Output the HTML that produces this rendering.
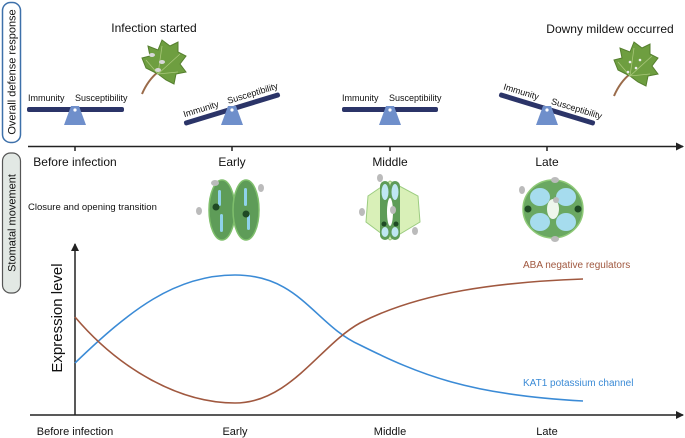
<!DOCTYPE html>
<html><head><meta charset="utf-8"><style>
html,body{margin:0;padding:0;background:#fff;}
svg{display:block;font-family:"Liberation Sans",sans-serif;}
</style></head><body>
<svg width="685" height="438" viewBox="0 0 685 438" xmlns="http://www.w3.org/2000/svg">
<defs>
<marker id="ar" markerWidth="8" markerHeight="8" refX="7" refY="4" orient="auto" markerUnits="userSpaceOnUse"><path d="M0,0 L8,4 L0,8 Z" fill="#222"/></marker>
<g id="ful"><path d="M-4,-3 L4,-3 L11,16 L-11,16 Z" fill="#6f8fcb"/><circle cx="0" cy="1" r="1.6" fill="#fff"/></g>
<g id="leaf">
<path d="M2,44 Q8,30 18,22" stroke="#9a6b4a" stroke-width="2" fill="none"/>
<path d="M18,24 L6,18 L2,8 L10,6 L8,-4 L18,0 L22,-10 L30,-4 L38,-8 L38,2 L46,6 L40,14 L46,22 L36,24 L34,34 L26,30 Z" fill="#6e9e40" stroke="#557f2e" stroke-width="1"/>
<path d="M18,24 L22,-4 M18,24 L40,4 M18,24 L38,22 M18,24 L6,10" stroke="#a9c77a" stroke-width="0.8" fill="none"/>
</g>
</defs>

<rect x="2.5" y="2.5" width="18" height="140" rx="8" fill="#fff" stroke="#3d70aa" stroke-width="1.5"/>
<text transform="translate(15.5,72) rotate(-90)" font-size="11" text-anchor="middle" fill="#111">Overall defense response</text>
<rect x="2.5" y="153" width="18" height="140" rx="8" fill="#e2e8e4" stroke="#555" stroke-width="1.2"/>
<text transform="translate(15.5,223) rotate(-90)" font-size="11" text-anchor="middle" fill="#111">Stomatal movement</text>

<text x="154" y="32" font-size="12" text-anchor="middle" fill="#111">Infection started</text>
<text x="610" y="33" font-size="12" text-anchor="middle" fill="#111">Downy mildew occurred</text>
<use href="#leaf" x="140" y="50"/>
<use href="#leaf" x="612" y="52"/>
<g fill="#d8d8d8"><ellipse cx="152" cy="55" rx="3" ry="2"/><ellipse cx="162" cy="62" rx="3" ry="2"/><ellipse cx="158" cy="70" rx="3" ry="2"/>
<circle cx="630" cy="62" r="1.3" fill="#eee"/><circle cx="636" cy="68" r="1.3" fill="#eee"/><circle cx="628" cy="72" r="1.3" fill="#eee"/><circle cx="640" cy="60" r="1.3" fill="#eee"/></g>

<rect x="27" y="107" width="97" height="5" rx="2" fill="#2b3468"/>
<use href="#ful" x="75" y="109"/>
<text x="28" y="101" font-size="9" fill="#111">Immunity</text>
<text x="75" y="101" font-size="9" fill="#111">Susceptibility</text>

<g transform="translate(232,109) rotate(-17)">
<rect x="-50" y="-2.5" width="100" height="5" rx="2" fill="#2b3468"/>
<text x="-48" y="-6" font-size="9" fill="#111">Immunity</text>
<text x="-2" y="-6" font-size="9" fill="#111">Susceptibility</text>
</g>
<use href="#ful" x="232" y="109"/>

<rect x="342" y="107" width="96" height="5" rx="2" fill="#2b3468"/>
<use href="#ful" x="390" y="109"/>
<text x="342" y="101" font-size="9" fill="#111">Immunity</text>
<text x="389" y="101" font-size="9" fill="#111">Susceptibility</text>

<g transform="translate(547,109) rotate(17)">
<rect x="-50" y="-2.5" width="100" height="5" rx="2" fill="#2b3468"/>
<text x="-48" y="-6" font-size="9" fill="#111">Immunity</text>
<text x="2" y="-6" font-size="9" fill="#111">Susceptibility</text>
</g>
<use href="#ful" x="547" y="109"/>

<line x1="28" y1="146.5" x2="683" y2="146.5" stroke="#222" stroke-width="1.5" marker-end="url(#ar)"/>
<g stroke="#222" stroke-width="1.5"><line x1="75" y1="146" x2="75" y2="151"/><line x1="232" y1="146" x2="232" y2="151"/><line x1="390" y1="146" x2="390" y2="151"/><line x1="547" y1="146" x2="547" y2="151"/></g>
<g font-size="12" text-anchor="middle" fill="#111">
<text x="75" y="166">Before infection</text><text x="232" y="166">Early</text><text x="390" y="166">Middle</text><text x="547" y="166">Late</text>
</g>
<text x="28" y="210" font-size="9.5" fill="#111">Closure and opening transition</text>

<g>
<ellipse cx="222" cy="210" rx="13" ry="30" fill="#5e9c58" stroke="#7fbf6c" stroke-width="1.5"/>
<ellipse cx="246" cy="210" rx="13" ry="30" fill="#5e9c58" stroke="#7fbf6c" stroke-width="1.5"/>
<rect x="218" y="190" width="3" height="16" rx="1.5" fill="#8fd2ea"/><rect x="220" y="214" width="3" height="18" rx="1.5" fill="#8fd2ea"/>
<rect x="244" y="188" width="3" height="18" rx="1.5" fill="#8fd2ea"/><rect x="247" y="214" width="3" height="16" rx="1.5" fill="#8fd2ea"/>
<circle cx="216" cy="207" r="3.5" fill="#1f4a25"/><circle cx="246" cy="214" r="3.5" fill="#1f4a25"/>
<ellipse cx="215" cy="183" rx="4" ry="3" fill="#bbb"/><ellipse cx="261" cy="188" rx="3" ry="4" fill="#bbb"/><ellipse cx="199" cy="211" rx="3" ry="4" fill="#bbb"/>
</g>
<g>
<path d="M390,181 L418,196 L420,222 L390,240 L366,222 L368,196 Z" fill="#d9f0b8" stroke="#9ccc80"/>
<rect x="380" y="181" width="10" height="59" rx="5" fill="#5e9c58"/><rect x="390" y="181" width="10" height="59" rx="5" fill="#5e9c58"/>
<ellipse cx="390" cy="212" rx="3" ry="14" fill="#fff"/>
<ellipse cx="385" cy="192" rx="3.5" ry="8" fill="#bfe6f2"/><ellipse cx="395" cy="192" rx="3.5" ry="8" fill="#bfe6f2"/>
<ellipse cx="385" cy="232" rx="3.5" ry="5" fill="#bfe6f2"/><ellipse cx="395" cy="232" rx="3.5" ry="5" fill="#bfe6f2"/>
<circle cx="384" cy="224" r="2.5" fill="#1f4a25"/><circle cx="396" cy="224" r="2.5" fill="#1f4a25"/>
<ellipse cx="380" cy="178" rx="3" ry="4" fill="#bbb"/><ellipse cx="362" cy="212" rx="3" ry="4" fill="#bbb"/><ellipse cx="393" cy="210" rx="3" ry="4" fill="#bbb"/><ellipse cx="415" cy="231" rx="3" ry="4" fill="#bbb"/>
</g>
<g>
<ellipse cx="553" cy="209" rx="30" ry="29" fill="#6aa862" stroke="#8fca78" stroke-width="1.5"/>
<ellipse cx="540" cy="197" rx="10" ry="9" fill="#a6dcee"/><ellipse cx="566" cy="197" rx="10" ry="9" fill="#a6dcee"/>
<ellipse cx="540" cy="222" rx="10" ry="9" fill="#a6dcee"/><ellipse cx="566" cy="222" rx="10" ry="9" fill="#a6dcee"/>
<ellipse cx="553" cy="209" rx="6" ry="10" fill="#eef6ec"/>
<circle cx="528" cy="209" r="3.5" fill="#1f4a25"/><circle cx="578" cy="209" r="3.5" fill="#1f4a25"/>
<ellipse cx="522" cy="190" rx="3" ry="4" fill="#bbb"/><ellipse cx="555" cy="180" rx="4" ry="3" fill="#bbb"/><ellipse cx="556" cy="200" rx="3" ry="3" fill="#bbb"/><ellipse cx="555" cy="239" rx="4" ry="3" fill="#bbb"/>
</g>

<line x1="75" y1="415" x2="75" y2="244" stroke="#222" stroke-width="1.5" marker-end="url(#ar)"/>
<line x1="30" y1="415" x2="683" y2="415" stroke="#222" stroke-width="1.5" marker-end="url(#ar)"/>
<text transform="translate(62,318) rotate(-90)" font-size="15" text-anchor="middle" fill="#111">Expression level</text>
<path d="M75,363 C130,310 175,275 235,275 C300,275 315,325 360,345 C420,375 470,395 583,401" fill="none" stroke="#3b8bd6" stroke-width="1.6"/>
<path d="M75,317 C120,370 180,403 235,403 C290,403 320,345 360,323 C420,292 500,282 583,279" fill="none" stroke="#a0583f" stroke-width="1.6"/>
<text x="523" y="268" font-size="10" fill="#a0583f">ABA negative regulators</text>
<text x="523" y="386" font-size="10" fill="#3b8bd6">KAT1 potassium channel</text>
<g font-size="11" text-anchor="middle" fill="#111">
<text x="75" y="435">Before infection</text><text x="235" y="435">Early</text><text x="390" y="435">Middle</text><text x="547" y="435">Late</text>
</g>
</svg>
</body></html>
